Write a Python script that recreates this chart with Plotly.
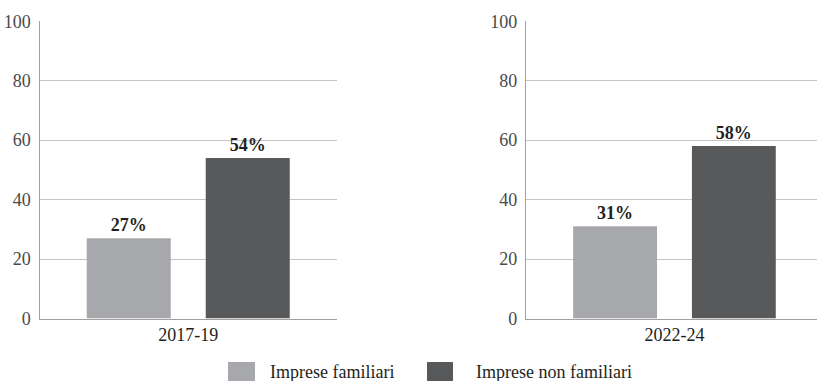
import plotly.graph_objects as go

periods = ["2017-19", "2022-24"]
series_names = ["Imprese familiari", "Imprese non familiari"]
familiari = [27, 31]
non_familiari = [54, 58]
colors = ["#a7a8ab", "#58595b"]
yticks = [0, 20, 40, 60, 80, 100]

W, H = 817, 381
FONT = "Liberation Serif"

fig = go.Figure()
axes = [("x", "y"), ("x2", "y2")]
for i, p in enumerate(periods):
    xa, ya = axes[i]
    for j, (name, vals) in enumerate([(series_names[0], familiari), (series_names[1], non_familiari)]):
        fig.add_trace(go.Bar(
            x=[p], y=[vals[i]], name=name, xaxis=xa, yaxis=ya,
            marker=dict(color=colors[j], line=dict(width=0)),
            text=[f"{vals[i]}%"], textposition="outside", cliponaxis=False,
            textfont=dict(family=FONT, size=18, color="#231f20"),
            texttemplate="<b>%{text}</b>",
            showlegend=False,
        ))

ydom = [1 - 318.5 / H, 1 - 21.3 / H]
yax = dict(range=[0, 100], tickvals=yticks, showgrid=True, gridcolor="#c4c4c4", gridwidth=1.2,
           showline=True, linecolor="#a0a0a0", linewidth=1.2, zeroline=False, ticks="",
           tickfont=dict(family=FONT, size=18, color="#4a4a4a"), ticklabelstandoff=4,
           automargin=False)
xax = dict(showline=True, linecolor="#a0a0a0", linewidth=1.2, ticks="", showgrid=False,
           tickfont=dict(family=FONT, size=18, color="#231f20"), type="category",
           automargin=False)

fig.update_layout(
    width=W, height=H, margin=dict(l=0, r=0, t=0, b=0, autoexpand=False),
    paper_bgcolor="white", plot_bgcolor="white",
    barmode="group", bargap=0.2, bargroupgap=0.294,
    showlegend=False,
    xaxis=dict(domain=[39.5 / W, 337 / W], range=[-0.5, 0.5], anchor="y", **xax),
    yaxis=dict(domain=ydom, anchor="x", **yax),
    xaxis2=dict(domain=[526 / W, 1.0], range=[-0.5, 0.48], anchor="y2", **xax),
    yaxis2=dict(domain=ydom, anchor="x2", **yax),
)

# legend drawn as swatches + labels
leg = [(228, 255, 268, series_names[0], colors[0]), (427, 453, 474, series_names[1], colors[1])]
for x0, x1, tx, name, c in leg:
    fig.add_shape(type="rect", xref="paper", yref="paper",
                  x0=x0 / W, x1=x1 / W, y0=1 - 381 / H, y1=1 - 362 / H,
                  fillcolor=c, line=dict(width=0))
    fig.add_annotation(xref="paper", yref="paper", x=tx / W, y=1 - 371.5 / H,
                       text=name, showarrow=False, xanchor="left", yanchor="middle",
                       font=dict(family=FONT, size=18, color="#231f20"))

fig.write_html("out.html")
